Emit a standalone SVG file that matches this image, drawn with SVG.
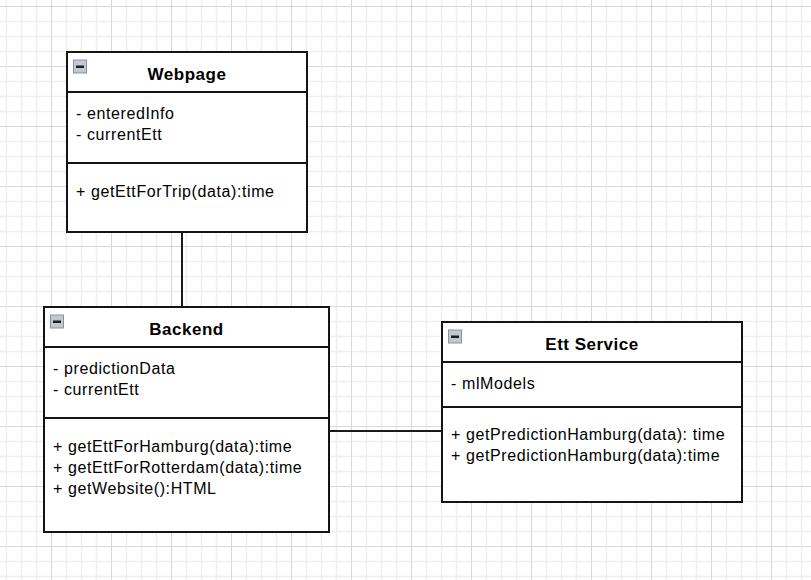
<svg xmlns="http://www.w3.org/2000/svg" width="811" height="580" viewBox="0 0 811 580">
  <style>
    .box { fill: #ffffff; stroke: #141414; stroke-width: 2; }
    .sep { stroke: #141414; stroke-width: 2; }
    .title { font-family: "Liberation Sans", Arial, sans-serif; font-size: 17px; font-weight: bold; fill: #000; text-anchor: middle; letter-spacing: 0.5px; }
    .item { font-family: "Liberation Sans", Arial, sans-serif; font-size: 16px; fill: #000; letter-spacing: 0.6px; }
    .conn { stroke: #1a1a1a; stroke-width: 2; fill: none; }
    .icon { fill: #c3c7cf; stroke: #8c919b; stroke-width: 1; }
    .iconbar { fill: #1e1e1e; }
  </style>
  <defs>
    <pattern id="grid" x="51" y="6" width="60" height="60" patternUnits="userSpaceOnUse">
      <path d="M15.5 0V60M30.5 0V60M45.5 0V60M0 15.5H60M0 30.5H60M0 45.5H60" stroke="#efefef" stroke-width="1.5" fill="none"/>
      <path d="M0.5 0V60M0 0.5H60" stroke="#d9d9d9" stroke-width="1" fill="none"/>
    </pattern>
    <g id="minus">
      <rect class="icon" x="0.5" y="0.5" width="13" height="13"/>
      <rect class="iconbar" x="3" y="6" width="8" height="2.5"/>
    </g>
  </defs>
  <rect x="0" y="0" width="811" height="580" fill="#ffffff"/>
  <rect x="0" y="0" width="811" height="580" fill="url(#grid)"/>

  <g id="connectors">
    <line class="conn" x1="182" y1="233" x2="182" y2="306"/>
    <line class="conn" x1="330" y1="431" x2="441" y2="431"/>
  </g>

  <g id="webpage">
    <rect class="box" x="67" y="52" width="240" height="180"/>
    <line class="sep" x1="67" y1="92" x2="307" y2="92"/>
    <line class="sep" x1="67" y1="163" x2="307" y2="163"/>
    <use href="#minus" x="73" y="59.5"/>
    <text class="title" x="187" y="79.5">Webpage</text>
    <text class="item" x="76" y="118.5">- enteredInfo</text>
    <text class="item" x="76" y="140">- currentEtt</text>
    <text class="item" x="76" y="196.5">+ getEttForTrip(data):time</text>
  </g>

  <g id="backend">
    <rect class="box" x="44" y="307" width="285" height="225"/>
    <line class="sep" x1="44" y1="347" x2="329" y2="347"/>
    <line class="sep" x1="44" y1="418" x2="329" y2="418"/>
    <use href="#minus" x="50" y="314.5"/>
    <text class="title" x="186.5" y="334.5">Backend</text>
    <text class="item" x="53" y="373.5">- predictionData</text>
    <text class="item" x="53" y="394.5">- currentEtt</text>
    <text class="item" x="53" y="451.5">+ getEttForHamburg(data):time</text>
    <text class="item" x="53" y="472.7">+ getEttForRotterdam(data):time</text>
    <text class="item" x="53" y="494.3">+ getWebsite():HTML</text>
  </g>

  <g id="ett-service">
    <rect class="box" x="442" y="322" width="300" height="180"/>
    <line class="sep" x1="442" y1="362" x2="742" y2="362"/>
    <line class="sep" x1="442" y1="407" x2="742" y2="407"/>
    <use href="#minus" x="448" y="329.5"/>
    <text class="title" x="592" y="349.5">Ett Service</text>
    <text class="item" x="451" y="388.5">- mlModels</text>
    <text class="item" x="451" y="439.5">+ getPredictionHamburg(data): time</text>
    <text class="item" x="451" y="460.5">+ getPredictionHamburg(data):time</text>
  </g>
</svg>
